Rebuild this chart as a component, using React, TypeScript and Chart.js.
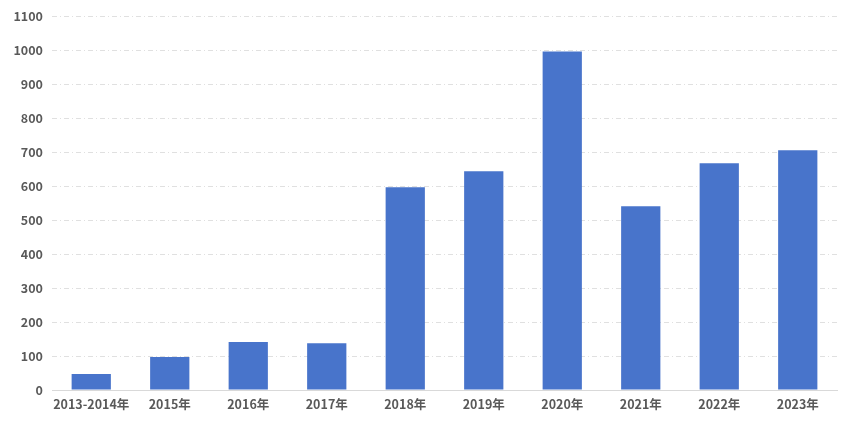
import React, { useEffect, useRef } from "react";
import { Chart, registerables } from "chart.js";

Chart.register(...registerables);

const categories = ["2013-2014年", "2015年", "2016年", "2017年", "2018年", "2019年", "2020年", "2021年", "2022年", "2023年"];
const values = [47, 97, 141, 138, 597, 644, 997, 541, 668, 706];
const yTicks = { min: 0, max: 1100, step: 100 };

export default function App() {
  const ref = useRef<HTMLCanvasElement>(null);
  useEffect(() => {
    if (!ref.current) return;
    const font = { family: "'Noto Sans CJK SC', 'Noto Sans', sans-serif", size: 12.5, weight: "bold" as const };
    const chart = new Chart(ref.current, {
      type: "bar",
      data: {
        labels: categories,
        datasets: [
          {
            data: values,
            backgroundColor: "#4874cb",
            barPercentage: 0.5,
            categoryPercentage: 1,
          },
        ],
      },
      options: {
        animation: false,
        responsive: true,
        maintainAspectRatio: false,
        layout: { padding: { top: 0, right: 7, bottom: 0, left: 0 } },
        plugins: { legend: { display: false }, tooltip: { enabled: false } },
        scales: {
          x: {
            grid: { display: false, drawTicks: false },
            border: { display: true, color: "#d9d9d9", width: 1 },
            ticks: { color: "#595959", font, padding: 7, maxRotation: 0, autoSkip: false },
            afterFit: (s: any) => { s.height = 25; },
          },
          y: {
            min: yTicks.min,
            max: yTicks.max,
            ticks: {
              stepSize: yTicks.step,
              color: "#595959",
              font,
              padding: 9,
              callback: (v: any) => String(v),
            },
            grid: { color: "#e0e0e0", drawTicks: false },
            border: { display: false, dash: [5, 3, 1, 3] },
            afterFit: (s: any) => { s.width = 44; },
          },
        },
      },
    });
    return () => chart.destroy();
  }, []);
  return (
    <div style={{ width: 836, height: 415, marginTop: -8, position: "relative" }}>
      <canvas ref={ref} />
    </div>
  );
}
